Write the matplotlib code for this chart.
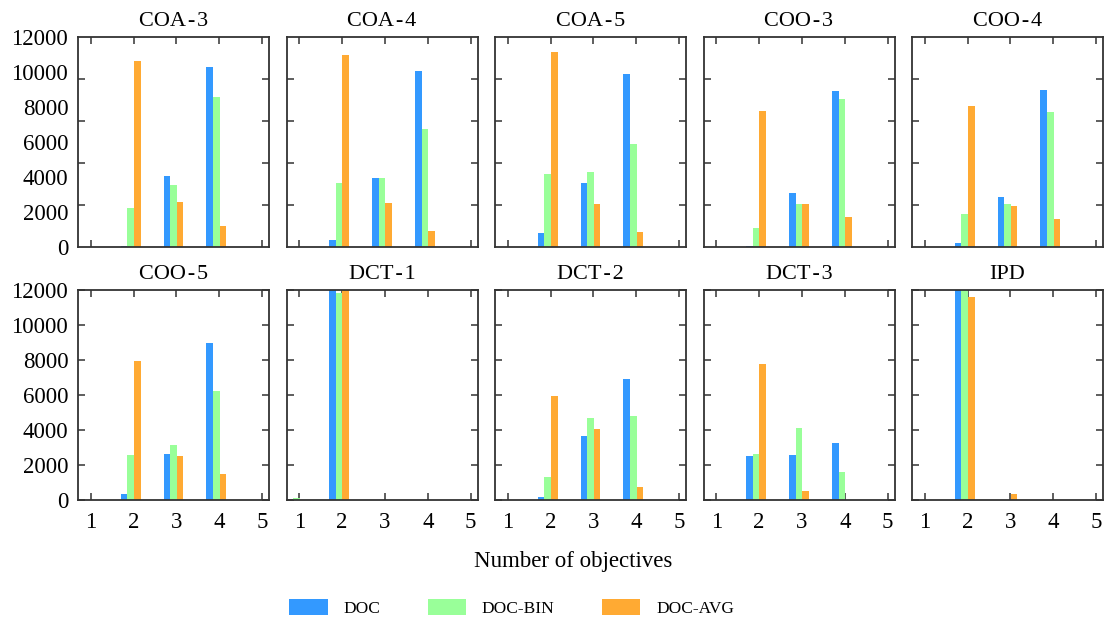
import numpy as np
import matplotlib
matplotlib.use("Agg")
import matplotlib.pyplot as plt
from matplotlib.ticker import MultipleLocator

plt.rcParams['font.family'] = ['Liberation Serif', 'DejaVu Serif']

# data (0 where no bar is visible)
objectives = [1, 2, 3, 4, 5]
methods = ["DOC", "DOC-BIN", "DOC-AVG"]
titles = ["COA-3", "COA-4", "COA-5", "COO-3", "COO-4",
          "COO-5", "DCT-1", "DCT-2", "DCT-3", "IPD"]

doc = [
    [0, 75, 4080, 10270, 0],
    [0, 420, 3970, 10030, 0],
    [0, 820, 3680, 9860, 0],
    [0, 30, 3110, 8890, 0],
    [0, 245, 2880, 8950, 0],
    [0, 343, 2630, 8970, 0],
    [0, 13000, 0, 0, 0],
    [0, 170, 3660, 6920, 0],
    [0, 2510, 2570, 3260, 0],
    [0, 13000, 0, 0, 0],
]
doc_bin = [
    [0, 2250, 3570, 8600, 0],
    [0, 3680, 3970, 6770, 0],
    [0, 4200, 4310, 5910, 0],
    [0, 1100, 2480, 8430, 0],
    [0, 1905, 2480, 7690, 0],
    [0, 2570, 3140, 6230, 0],
    [110, 11830, 0, 0, 0],
    [0, 1310, 4690, 4800, 0],
    [0, 2630, 4110, 1600, 0],
    [0, 13000, 0, 0, 0],
]
doc_avg = [
    [0, 10610, 2590, 1220, 0],
    [0, 10950, 2540, 930, 0],
    [0, 11120, 2480, 875, 0],
    [0, 7800, 2480, 1735, 0],
    [0, 8030, 2365, 1620, 0],
    [0, 7940, 2510, 1490, 0],
    [0, 13000, 0, 0, 0],
    [0, 5940, 4060, 740, 0],
    [0, 7770, 510, 0, 0],
    [0, 11600, 340, 0, 0],
]

colors = ["#3399ff", "#99ff99", "#ffaa33"]
offsets = [-0.225, -0.07, 0.085]
width = 0.155

W, H = 1105, 623
fig = plt.figure(figsize=(W / 100, H / 100), dpi=100)

x = np.array(objectives)
for i, title in enumerate(titles):
    row, col = divmod(i, 5)
    left = 78 + col * 208.5
    bottom_px = 247 if row == 0 else 500
    ax = fig.add_axes([left / W, 1 - bottom_px / H, 191 / W, 210 / H])
    ax.set_axisbelow(True)
    for series, c, off, name in zip([doc, doc_bin, doc_avg], colors, offsets, methods):
        ax.bar(x + off, series[i], width=width, color=c, label=name, linewidth=0)
    ax.set_xlim(0.7, 5.16)
    ax.set_ylim(0, 12000)
    ax.set_xticks(objectives)
    ax.set_yticks(np.arange(0, 12001, 2000))
    ax.set_title(title.replace("-", "\u200a-\u200a"), fontsize=16, pad=8)
    for s in ax.spines.values():
        s.set_color("#333333")
        s.set_linewidth(1.3)
    ax.tick_params(direction="in", top=True, right=True, length=5, width=1.1,
                   color="#333333", labelsize=16.5)
    ax.tick_params(axis="x", pad=9)
    ax.tick_params(axis="y", pad=7)
    if row == 0:
        # tick marks in the top row are spaced differently from the labels
        ax.yaxis.set_minor_locator(MultipleLocator(2400))
        ax.tick_params(axis="y", which="major", length=0)
        ax.tick_params(axis="y", which="minor", direction="in", left=True,
                       right=True, length=5, width=1.1, color="#333333")
        ax.set_xticklabels([])
    if col != 0:
        ax.set_yticklabels([])

fig.text(573 / W, 1 - 562 / H, "Number of objectives", ha="center", va="center", fontsize=16.5)

handles, labels = ax.get_legend_handles_labels()
fig.legend(handles, labels, ncol=3, loc="center", bbox_to_anchor=(0.463, 1 - 608 / H),
           frameon=False, fontsize=12.5, handlelength=2.2, handleheight=1.0,
           handletextpad=0.9, columnspacing=2.75)

fig.savefig("out.png", dpi=100)
